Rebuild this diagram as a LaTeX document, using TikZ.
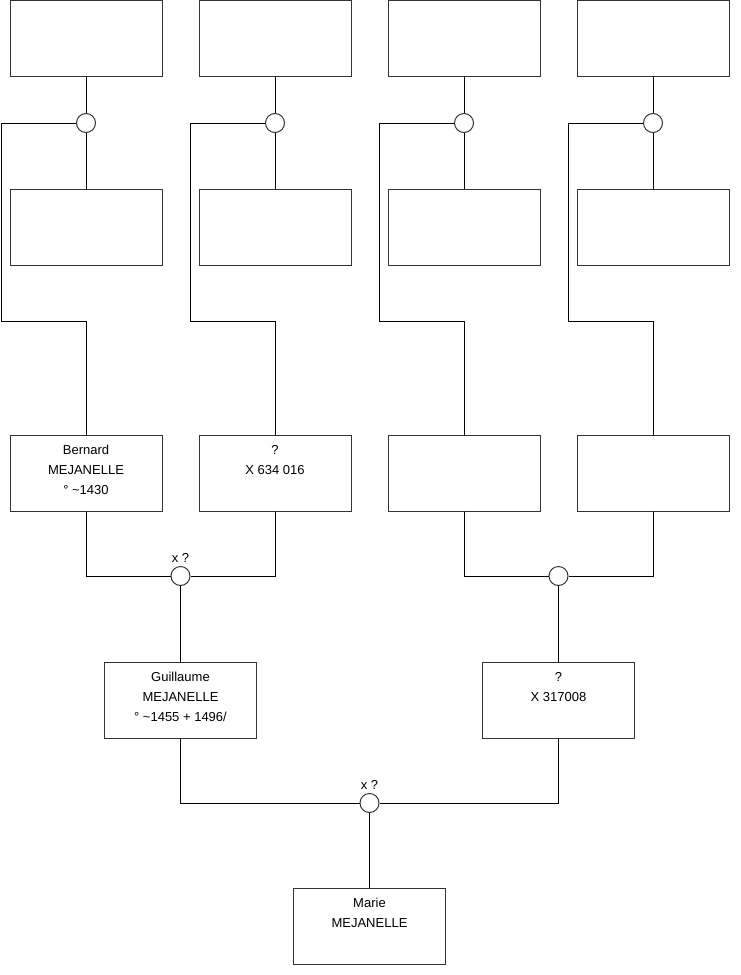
\documentclass[tikz,border=0pt]{standalone}
\usepackage{fontspec}
\setmainfont{Liberation Sans}
\usetikzlibrary{positioning}
\definecolor{BoxClr}{rgb}{0.2,0.2,0.2}

\begin{document}
\begin{tikzpicture}[x=0.75pt,y=-0.75pt,
  personne/.style={draw=BoxClr,line width=0.75pt,minimum width=114pt,minimum height=57pt,inner sep=0pt},
  union/.style={circle,draw=BoxClr,line width=0.75pt,fill=white,minimum size=14.25pt,inner sep=0pt},
  lien/.style={line width=0.75pt},
  texte/.style={align=center,font=\fontsize{9.75}{15}\selectfont,inner sep=0pt,anchor=north},
  mariage/.style={font=\fontsize{9.75}{15}\selectfont,inner sep=0pt,anchor=base}]
\useasboundingbox (0,0) rectangle (740,975);

% Ancêtres : rangées 1 et 2, avec leur union.
\foreach \i/\x in {1/86,2/275,3/464,4/653}{
  \node[personne] (t\i) at (\x,38) {};
  \node[union] (c\i) at (\x,123) {};
  \node[personne] (m\i) at (\x,227) {};
  \coordinate (g\i) at ({\x-85},321);
}

% Rangée 3.
\node[personne] (p1) at (86,473) {};
\node[personne] (p2) at (275,473) {};
\node[personne] (p3) at (464,473) {};
\node[personne] (p4) at (653,473) {};

% Rangée 4 et la fille.
\node[personne] (guillaume) at (180.5,700) {};
\node[personne] (inconnu) at (558.5,700) {};
\node[personne] (marie) at (369.5,926) {};

% Unions du bas.
\node[union] (u1) at (180.5,576) {};
\node[union] (u2) at (558.5,576) {};
\node[union] (u3) at (369.5,803) {};

% Liens entre les rangées 1, 2 et 3.
\foreach \i in {1,...,4}{
  \draw[lien] (t\i.south) -- (c\i.north);
  \draw[lien] (c\i.south) -- (m\i.north);
  \draw[lien] (c\i.west) -| (g\i) -| (p\i.north);
}

% Liens du bas.
\draw[lien] (p1.south) |- (u1.west);
\draw[lien] (p2.south) |- (u1.east);
\draw[lien] (u1.south) -- (guillaume.north);
\draw[lien] (p3.south) |- (u2.west);
\draw[lien] (p4.south) |- (u2.east);
\draw[lien] (u2.south) -- (inconnu.north);
\draw[lien] (guillaume.south) |- (u3.west);
\draw[lien] (inconnu.south) |- (u3.east);
\draw[lien] (u3.south) -- (marie.north);

% Textes des personnes.
\node[texte] (tp1) at ([yshift=-8pt]p1.north) {Bernard\\MEJANELLE\\° \textasciitilde1430};
\node[texte] (tp2) at ([yshift=-8pt]p2.north) {?\\X 634 016};
\node[texte] (tguillaume) at ([yshift=-8pt]guillaume.north) {Guillaume\\MEJANELLE\\° \textasciitilde1455 + 1496/};
\node[texte] (tinconnu) at ([yshift=-8pt]inconnu.north) {?\\X 317008};
\node[texte] (tmarie) at ([yshift=-8pt]marie.north) {Marie\\MEJANELLE};

% Mentions de mariage.
\node[mariage] (x1) at ([yshift=2.5pt]u1.north) {x ?};
\node[mariage] (x3) at ([yshift=2.5pt]u3.north) {x ?};

\end{tikzpicture}
\end{document}
